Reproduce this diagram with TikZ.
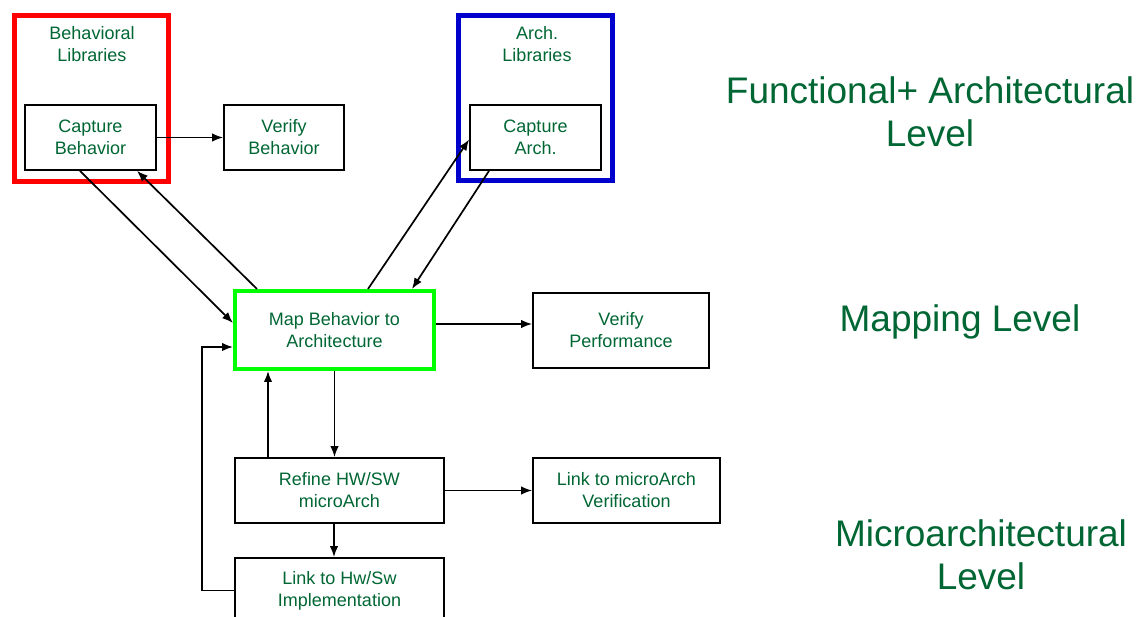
\documentclass[tikz,border=0pt]{standalone}
\usepackage{fontspec}
\setmainfont{Liberation Sans}
\usetikzlibrary{arrows.meta}
\definecolor{lvlgreen}{RGB}{0,102,51}

\begin{document}
\begin{tikzpicture}[x=1pt, y=-1pt, >={Latex[length=11pt,width=8.5pt]}]
      \tikzstyle{every node}=[font=\fontsize{18}{22}\selectfont, text=lvlgreen, align=center]
      \tikzstyle{blk}=[draw=black, line width=1.8pt, inner sep=0pt, minimum height=65pt]
      \tikzstyle{lvl}=[font=\fontsize{37}{43}\selectfont]
      \tikzstyle{conn}=[->, line width=1.7pt]
      \clip (0,0) rectangle (1146,617);
      %%
  \node (beh_lib) at (91.5,98.5) [draw=red, line width=5pt, minimum width=154pt, minimum height=166pt] {};
  \node (arch_lib) at (535.5,98) [draw=blue!80!black, line width=5pt, minimum width=154pt, minimum height=165pt] {};
  \node (beh_lib_t) at (92,44) {Behavioral\\Libraries};
  \node (arch_lib_t) at (537,44) {Arch.\\Libraries};
  \node (cap_beh) at (90.5,137.5) [blk, minimum width=131pt] {Capture\\Behavior};
  \node (ver_beh) at (284,137.5) [blk, minimum width=120pt] {Verify\\Behavior};
  \node (cap_arch) at (535.5,137.5) [blk, minimum width=131pt] {Capture\\Arch.};
  \node (map_ba) at (334.5,330) [blk, draw=green, line width=4pt, minimum width=199pt, minimum height=78pt] {Map Behavior to\\Architecture};
  \node (ver_perf) at (621,330.5) [blk, minimum width=176pt, minimum height=75pt] {Verify\\Performance};
  \node (refine) at (339.5,490.5) [blk, minimum width=209pt] {Refine HW/SW\\microArch};
  \node (link_ua) at (626.5,490.5) [blk, minimum width=187pt] {Link to microArch\\Verification};
  \node (link_hs) at (339.5,590.5) [blk, minimum width=209pt] {Link to Hw/Sw\\Implementation};
  \node (lvl_func) at (930,112) [lvl] {Functional+ Architectural\\Level};
  \node (lvl_map) at (960,322) [lvl] {Mapping Level};
  \node (lvl_micro) at (981,555) [lvl] {Microarchitectural\\Level};
  \draw [conn] (cap_beh.east) -- (ver_beh.west);
  \draw [conn] ([xshift=-10.5pt]cap_beh.south) -- ([yshift=7pt]map_ba.west);
  \draw [conn] ([xshift=-77.5pt]map_ba.north) -- ([xshift=46.5pt]cap_beh.south);
  \draw [conn] ([xshift=33.5pt]map_ba.north) -- ([yshift=-2pt]cap_arch.west);
  \draw [conn] ([xshift=-46.5pt]cap_arch.south) -- ([xshift=77.5pt]map_ba.north);
  \draw [conn] ([yshift=6pt]map_ba.east) -- ([yshift=6pt]map_ba.east -| ver_perf.west);
  \draw [conn] (map_ba.south) -- (map_ba.south |- refine.north);
  \draw [conn] ([xshift=-71.5pt]refine.north) -- ([xshift=-71.5pt]refine.north |- map_ba.south);
  \draw [conn] (refine.east) -- (link_ua.west);
  \draw [conn] ([xshift=-5.5pt]refine.south) -- ([xshift=-5.5pt]refine.south |- link_hs.north);
  \draw [conn] (link_hs.west) -- ++(-32,0) |- ([yshift=-17pt]map_ba.west);
%

    \end{tikzpicture}
\end{document}
